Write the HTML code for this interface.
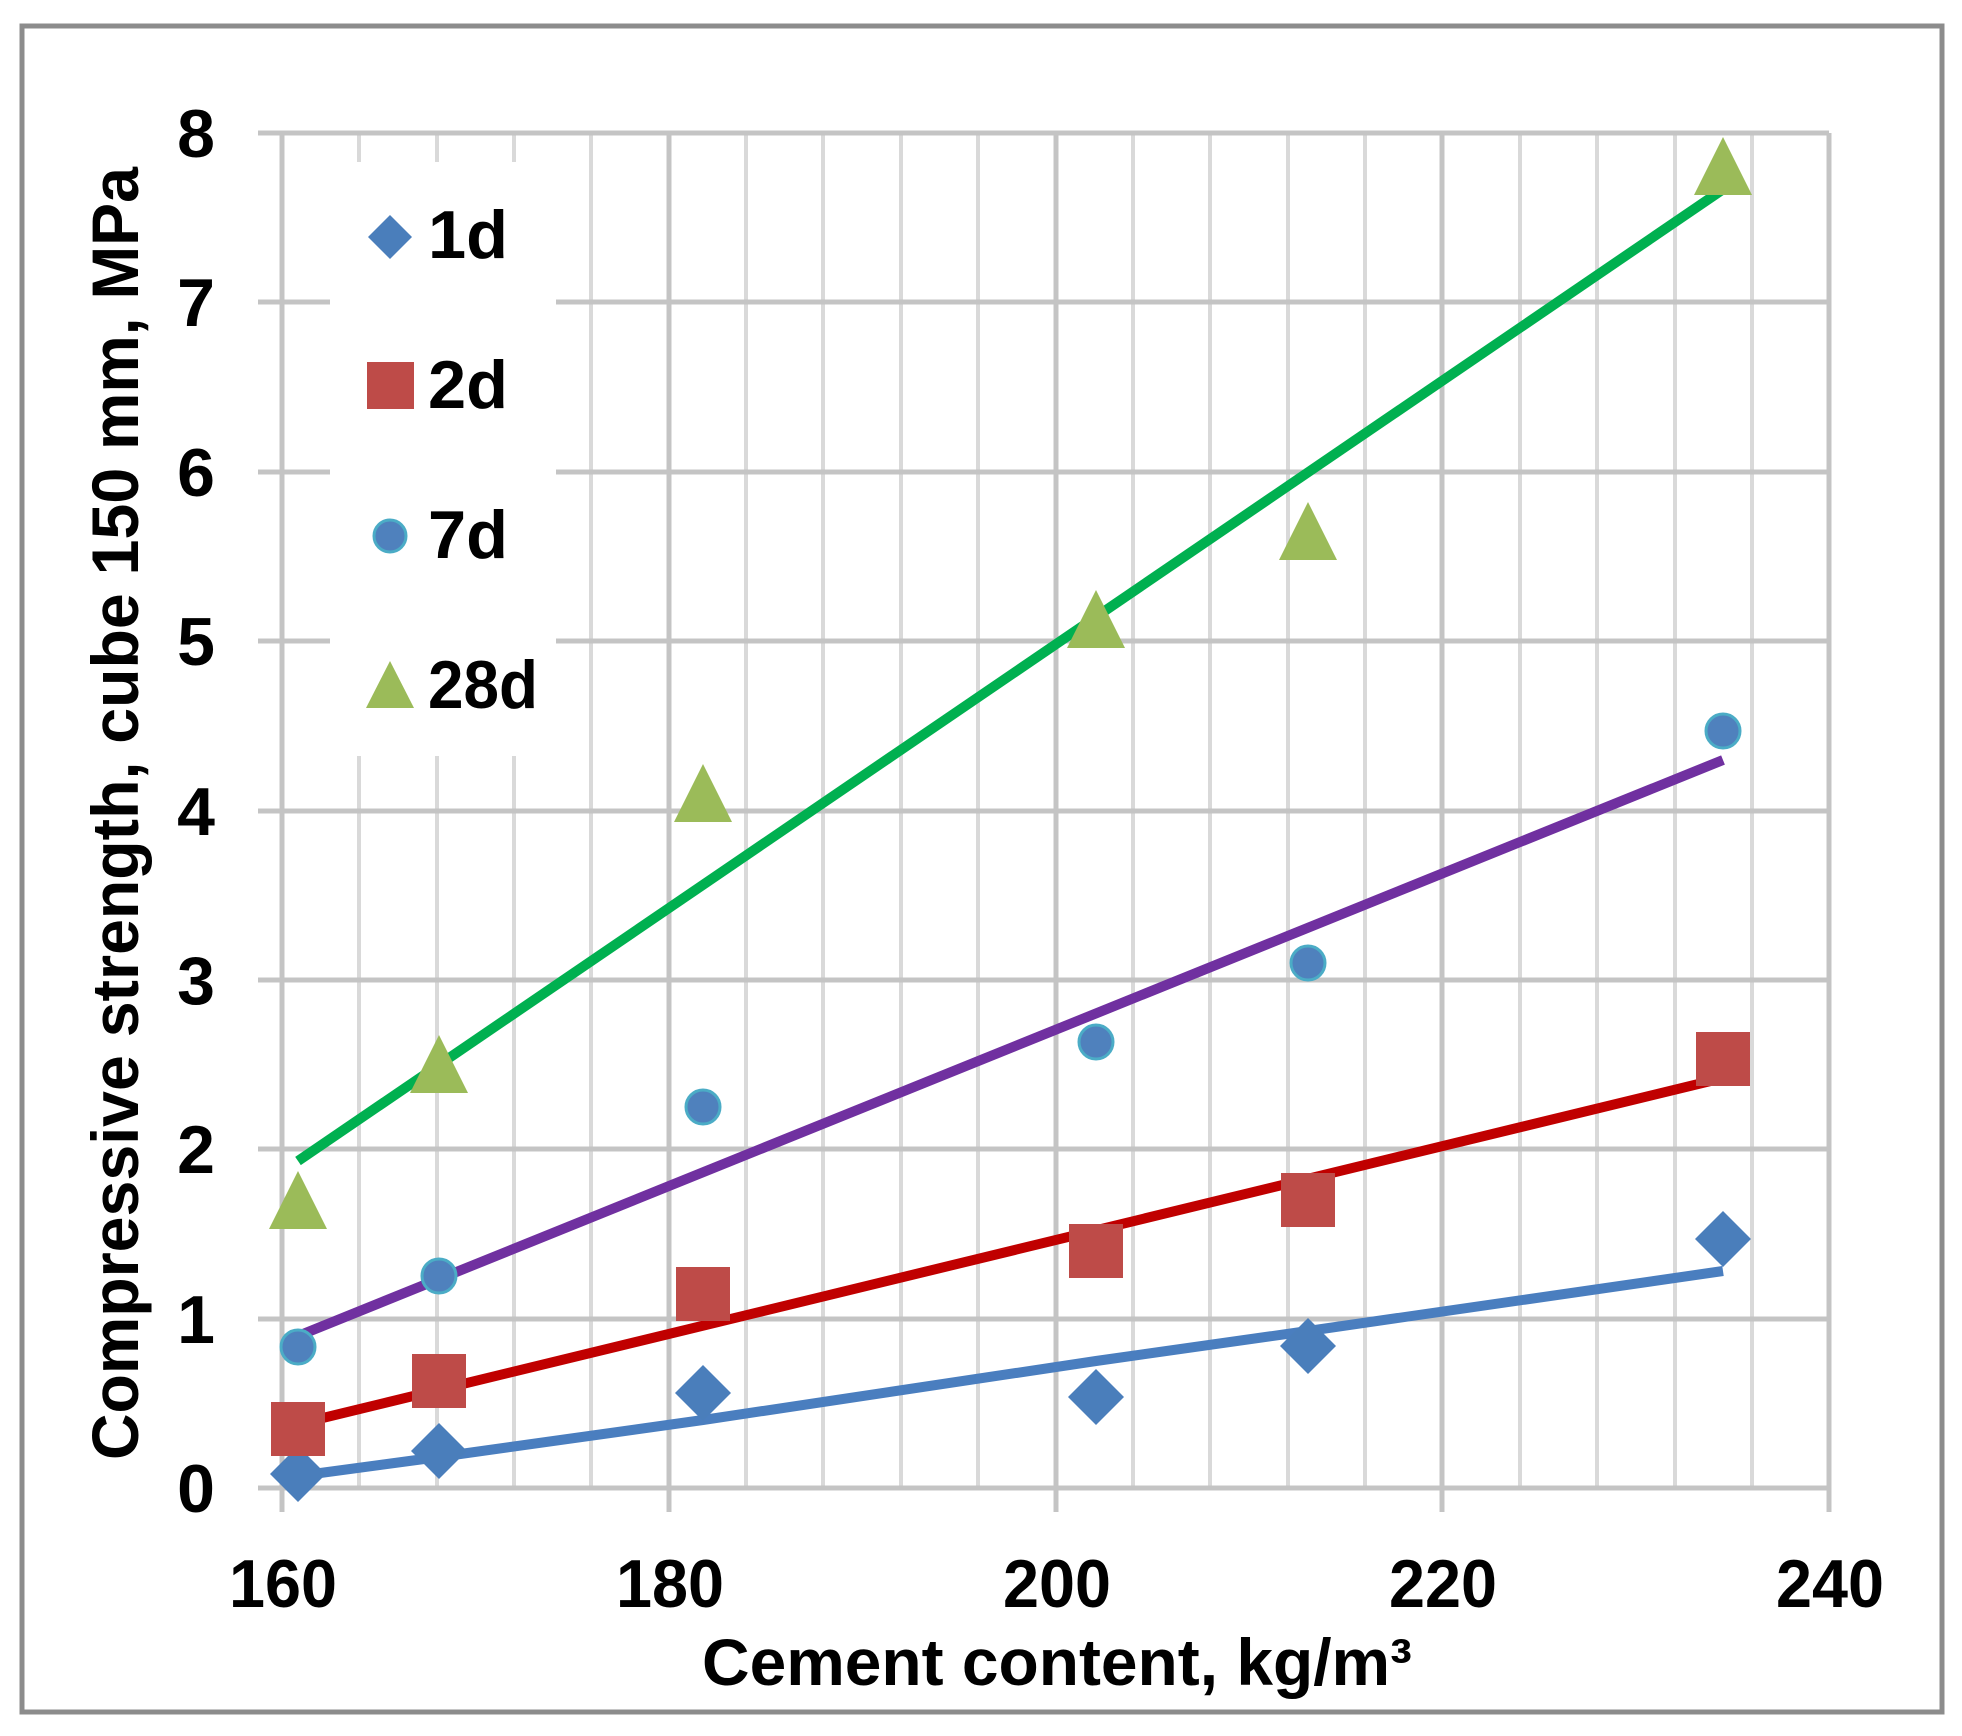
<!DOCTYPE html>
<html><head><meta charset="utf-8"><style>
html,body{margin:0;padding:0;background:#fff;}
svg{display:block;}
text{font-family:"Liberation Sans",sans-serif;font-weight:bold;fill:#000;}
</style></head><body>
<svg width="1962" height="1736" viewBox="0 0 1962 1736" xmlns="http://www.w3.org/2000/svg">
<rect x="0" y="0" width="1962" height="1736" fill="#fff"/>
<rect x="22" y="26" width="1920" height="1686" fill="none" stroke="#8c8c8c" stroke-width="5"/>
<g stroke="#d9d9d9" stroke-width="4">
<line x1="359" y1="133" x2="359" y2="1488"/><line x1="437" y1="133" x2="437" y2="1488"/><line x1="514" y1="133" x2="514" y2="1488"/><line x1="591" y1="133" x2="591" y2="1488"/>
<line x1="746" y1="133" x2="746" y2="1488"/><line x1="823" y1="133" x2="823" y2="1488"/><line x1="901" y1="133" x2="901" y2="1488"/><line x1="978" y1="133" x2="978" y2="1488"/>
<line x1="1133" y1="133" x2="1133" y2="1488"/><line x1="1210" y1="133" x2="1210" y2="1488"/><line x1="1288" y1="133" x2="1288" y2="1488"/><line x1="1365" y1="133" x2="1365" y2="1488"/>
<line x1="1520" y1="133" x2="1520" y2="1488"/><line x1="1597" y1="133" x2="1597" y2="1488"/><line x1="1675" y1="133" x2="1675" y2="1488"/><line x1="1752" y1="133" x2="1752" y2="1488"/>
</g>
<g stroke="#c4c4c4" stroke-width="5">
<line x1="282" y1="133" x2="282" y2="1512"/><line x1="669" y1="133" x2="669" y2="1512"/><line x1="1056" y1="133" x2="1056" y2="1512"/><line x1="1442" y1="133" x2="1442" y2="1512"/><line x1="1829" y1="133" x2="1829" y2="1512"/>
</g>
<g stroke="#c4c4c4" stroke-width="5">
<line x1="258" y1="133" x2="1829" y2="133"/><line x1="258" y1="302" x2="1829" y2="302"/><line x1="258" y1="472" x2="1829" y2="472"/><line x1="258" y1="641" x2="1829" y2="641"/>
<line x1="258" y1="811" x2="1829" y2="811"/><line x1="258" y1="980" x2="1829" y2="980"/><line x1="258" y1="1149" x2="1829" y2="1149"/><line x1="258" y1="1319" x2="1829" y2="1319"/><line x1="258" y1="1488" x2="1829" y2="1488"/>
</g>
<rect x="330" y="162" width="226" height="594" fill="#fff"/>
<g fill="none" stroke-width="10" stroke-linecap="butt">
<polyline stroke="#4a7ebf" points="298,1476 439,1457 703,1420 1096,1361 1308,1331 1723,1271"/>
<line stroke="#c00000" x1="298" y1="1424" x2="1723" y2="1078"/>
<line stroke="#7030a0" x1="298" y1="1336" x2="1723" y2="760"/>
<line stroke="#00b050" x1="298" y1="1161" x2="1725" y2="188"/>
</g>
<g fill="#4a7ebb">
<polygon points="298,1446 326,1474 298,1502 270,1474"/>
<polygon points="439,1423 467,1451 439,1479 411,1451"/>
<polygon points="703,1365 731,1393 703,1421 675,1393"/>
<polygon points="1096,1369 1124,1397 1096,1425 1068,1397"/>
<polygon points="1308,1318 1336,1346 1308,1374 1280,1346"/>
<polygon points="1723,1211 1751,1239 1723,1267 1695,1239"/>
</g>
<g fill="#be4b48">
<rect x="271" y="1402" width="54" height="54"/><rect x="412" y="1354" width="54" height="54"/>
<rect x="676" y="1267" width="54" height="54"/><rect x="1069" y="1224" width="54" height="54"/>
<rect x="1281" y="1173" width="54" height="54"/><rect x="1696" y="1032" width="54" height="54"/>
</g>
<g fill="#4f81bd" stroke="#4bacc6" stroke-width="3">
<circle cx="298" cy="1347" r="17"/><circle cx="439" cy="1276" r="17"/><circle cx="703" cy="1107" r="17"/>
<circle cx="1096" cy="1042" r="17"/><circle cx="1308" cy="963" r="17"/><circle cx="1723" cy="731" r="17"/>
</g>
<g fill="#9bbb59">
<polygon points="298,1171 327,1229 269,1229"/>
<polygon points="439,1035 468,1093 410,1093"/>
<polygon points="703,764 732,822 674,822"/>
<polygon points="1096,590 1125,648 1067,648"/>
<polygon points="1308,502 1337,560 1279,560"/>
<polygon points="1723,137 1752,195 1694,195"/>
</g>
<polygon points="390,215 412,237 390,259 368,237" fill="#4a7ebb"/>
<rect x="367" y="362" width="47" height="47" fill="#be4b48"/>
<circle cx="390" cy="536" r="16" fill="#4f81bd" stroke="#4bacc6" stroke-width="3"/>
<polygon points="390,661 414,708 366,708" fill="#9bbb59"/>
<g font-size="68">
<text x="428" y="258" textLength="80" lengthAdjust="spacingAndGlyphs">1d</text>
<text x="428" y="408" textLength="80" lengthAdjust="spacingAndGlyphs">2d</text>
<text x="428" y="558" textLength="80" lengthAdjust="spacingAndGlyphs">7d</text>
<text x="428" y="708" textLength="110" lengthAdjust="spacingAndGlyphs">28d</text>
</g>
<g font-size="68" text-anchor="end">
<text x="215" y="157">8</text><text x="215" y="326">7</text><text x="215" y="496">6</text><text x="215" y="665">5</text>
<text x="215" y="835">4</text><text x="215" y="1004">3</text><text x="215" y="1173">2</text><text x="215" y="1343">1</text><text x="215" y="1512">0</text>
</g>
<g font-size="68" text-anchor="middle">
<text x="283" y="1607" textLength="108" lengthAdjust="spacingAndGlyphs">160</text>
<text x="670" y="1607" textLength="108" lengthAdjust="spacingAndGlyphs">180</text>
<text x="1057" y="1607" textLength="108" lengthAdjust="spacingAndGlyphs">200</text>
<text x="1443" y="1607" textLength="108" lengthAdjust="spacingAndGlyphs">220</text>
<text x="1830" y="1607" textLength="108" lengthAdjust="spacingAndGlyphs">240</text>
</g>
<text x="702" y="1685" font-size="66" textLength="710" lengthAdjust="spacingAndGlyphs">Cement content, kg/m³</text>
<text transform="translate(138,1460) rotate(-90)" x="0" y="0" font-size="66" textLength="1293" lengthAdjust="spacingAndGlyphs">Compressive strength, cube 150 mm, MPa</text>
</svg>
</body></html>
